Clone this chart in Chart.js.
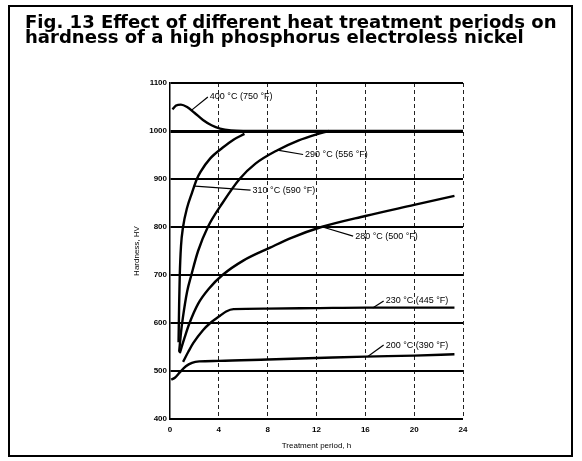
<!DOCTYPE html>
<html>
<head>
<meta charset="utf-8">
<script src="https://cdn.jsdelivr.net/npm/chart.js@4.4.0/dist/chart.umd.min.js"></script>
<style>
  body { margin: 0; background: #fff; }
</style>
</head>
<body>
<canvas id="myChart" width="582" height="461"></canvas>
<script>
// title text and axis labels
const titleLines = [
  'Fig. 13 Effect of different heat treatment periods on',
  'hardness of a high phosphorus electroless nickel',
];
const xTitle = 'Treatment period, h';
const yTitle = 'Hardness, HV';

// curve values: [treatment period h, hardness HV]
const c400 = [[0.2, 1045], [0.5, 1053], [0.9, 1055], [1.4, 1050], [2, 1038], [2.7, 1023], [3.4, 1012], [4.1, 1005], [5, 1001], [6, 1000], [24, 1000]];
const c310 = [[0.7, 560], [0.75, 640], [0.8, 700], [0.9, 760], [1.07, 800], [1.4, 840], [1.8, 871], [2.2, 900], [2.5, 915], [3.3, 943], [4.3, 965], [5.2, 982], [6.1, 994]];
const c290 = [[0.75, 540], [0.9, 580], [1.05, 610], [1.4, 665], [1.75, 700], [2.3, 750], [3.1, 800], [4.3, 850], [5.7, 900], [7, 932], [8.8, 960], [10.5, 980], [12, 993], [13, 1000]];
const c280 = [[0.8, 537], [1.2, 570], [1.6, 600], [2.3, 640], [3.2, 672], [4.3, 700], [6, 730], [8.2, 757], [10, 778], [12.4, 800], [16, 823], [20, 846], [23.3, 865]];
const c230 = [[1.07, 519], [1.5, 540], [1.9, 558], [2.7, 585], [3.3, 600], [4.1, 615], [4.6, 624], [5.2, 629], [8, 630], [12, 631], [16, 632], [23.3, 632]];
const c200 = [[0.1, 482], [0.4, 486], [0.8, 497], [1.3, 510], [1.8, 517], [2.4, 520], [4, 521], [8, 524], [12, 527], [16, 530], [20, 532], [23.3, 535]];

const seriesNames = ['400 °C (750 °F)', '310 °C (590 °F)', '290 °C (556 °F)', '280 °C (500 °F)', '230 °C (445 °F)', '200 °C (390 °F)'];
const seriesData = [c400, c310, c290, c280, c230, c200];

const xTicks = [0, 4, 8, 12, 16, 20, 24];

// curve labels: leader start on curve, leader end / text start (data units)
const labelFrom = [[1.8, 1044], [2.05, 885], [8.8, 960], [12.5, 800], [16.6, 631], [16.2, 530]];
const labelTo = [[3.1, 1071], [6.6, 877], [10.9, 951], [15, 781], [17.5, 646], [17.5, 554]];

const font = "'Liberation Sans', Arial, sans-serif";

const paperPlugin = {
  id: 'paper',
  beforeDraw(chart) {
    const { ctx, width, height } = chart;
    ctx.save();
    ctx.fillStyle = '#fff';
    ctx.fillRect(0, 0, width, height);
    ctx.strokeStyle = '#000';
    ctx.lineWidth = 2;
    ctx.strokeRect(9, 6, width - 19, height - 11);

    // two line heading, stretched to the figure width
    ctx.fillStyle = '#000';
    ctx.textBaseline = 'middle';
    ctx.font = `bold 14px 'DejaVu Sans', sans-serif`;
    const w = ctx.measureText(titleLines[0]).width;
    const size = 14 * 532 / w;
    ctx.font = `bold ${size.toFixed(2)}px 'DejaVu Sans', sans-serif`;
    ctx.fillText(titleLines[0], 25, 23);
    ctx.fillText(titleLines[1], 25, 38);
    ctx.restore();
  },
};

const curveLabels = {
  id: 'curveLabels',
  afterDatasetsDraw(chart) {
    const { ctx, scales: { x, y } } = chart;
    ctx.save();
    ctx.strokeStyle = '#000';
    ctx.fillStyle = '#000';
    ctx.lineWidth = 1.2;
    ctx.font = `9px ${font}`;
    ctx.textBaseline = 'middle';
    seriesNames.forEach((name, i) => {
      const [x0, y0] = labelFrom[i];
      const [x1, y1] = labelTo[i];
      const px1 = x.getPixelForValue(x1);
      const py1 = y.getPixelForValue(y1);
      ctx.beginPath();
      ctx.moveTo(x.getPixelForValue(x0), y.getPixelForValue(y0));
      ctx.lineTo(px1, py1);
      ctx.stroke();
      ctx.fillText(name, px1 + 2, py1);
    });
    ctx.restore();
  },
};

const ctx = document.getElementById('myChart');

new Chart(ctx, {
  type: 'line',
  data: {
    datasets: seriesData.map((pts, i) => ({
      label: seriesNames[i],
      data: pts.map(([t, hv]) => ({ x: t, y: hv })),
      borderColor: '#000',
      borderWidth: 2.4,
      pointRadius: 0,
      fill: false,
      cubicInterpolationMode: 'monotone',
    })),
  },
  options: {
    responsive: false,
    animation: false,
    layout: { padding: { left: 130, right: 119, top: 83, bottom: 0 } },
    plugins: {
      legend: { display: false },
      tooltip: { enabled: false },
    },
    scales: {
      x: {
        type: 'linear',
        min: 0,
        max: 24,
        afterFit: (s) => { s.height = 42; },
        afterBuildTicks: (s) => { s.ticks = xTicks.map((v) => ({ value: v })); },
        ticks: {
          color: '#000',
          padding: 6,
          font: { family: font, size: 8, weight: 'bold' },
          callback: (v) => String(v),
        },
        grid: {
          color: '#222',
          drawTicks: false,
          lineWidth: (c) => (c.tick && c.tick.value === 0 ? 0 : 1),
        },
        border: { color: '#000', width: 2, dash: [4, 3] },
        title: {
          display: true,
          text: xTitle,
          color: '#000',
          padding: { top: 10, bottom: 10 },
          font: { family: font, size: 8 },
        },
      },
      y: {
        min: 400,
        max: 1100,
        afterFit: (s) => { s.width = 40; },
        ticks: {
          stepSize: 100,
          color: '#000',
          padding: 3,
          font: { family: font, size: 8, weight: 'bold' },
          callback: (v) => String(v),
        },
        grid: {
          color: '#000',
          drawTicks: false,
          lineWidth: (c) => (c.tick && c.tick.value === 1000 ? 3 : 2),
        },
        border: { color: '#000', width: 1.5 },
        title: {
          display: true,
          text: yTitle,
          color: '#000',
          padding: { top: 2, bottom: 2 },
          font: { family: font, size: 8 },
        },
      },
    },
  },
  plugins: [paperPlugin, curveLabels],
});
</script>
</body>
</html>
